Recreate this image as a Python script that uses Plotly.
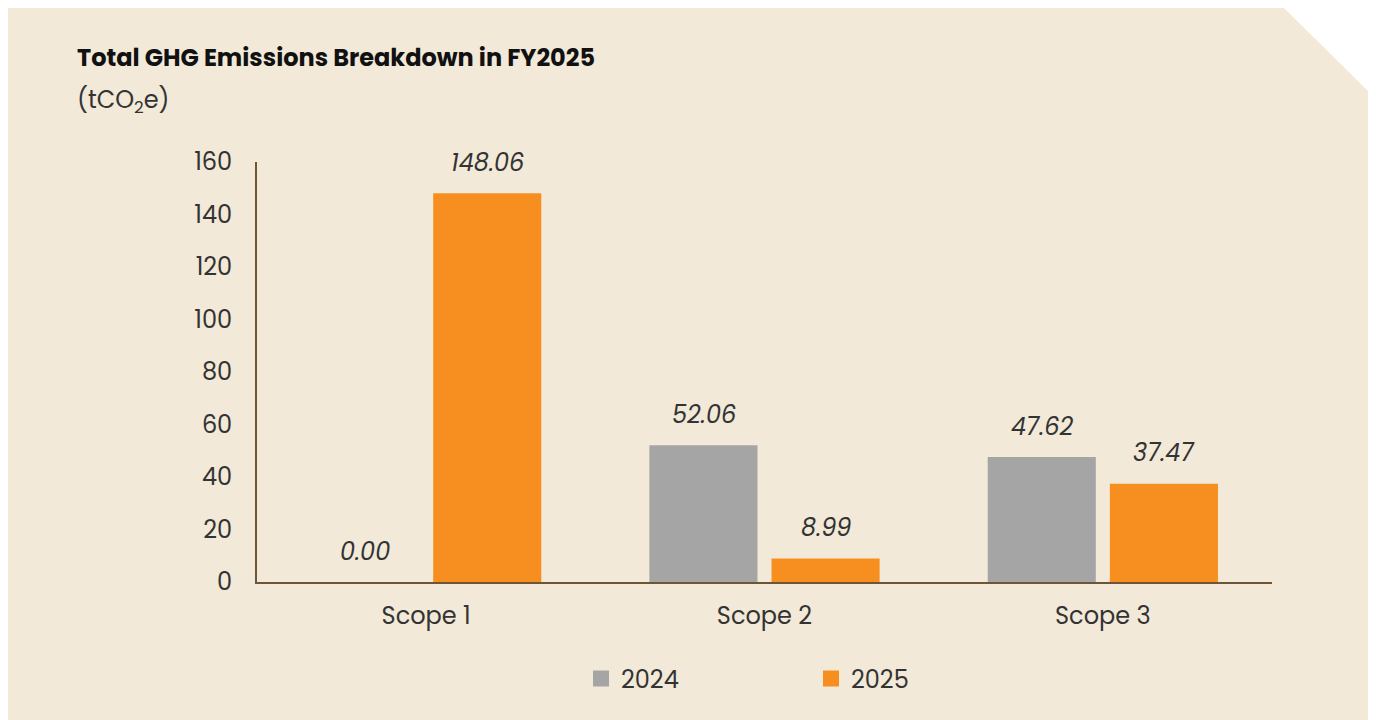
import plotly.graph_objects as go

categories = ["Scope 1", "Scope 2", "Scope 3"]
series_names = ["2024", "2025"]
values_2024 = [0.00, 52.06, 47.62]
values_2025 = [148.06, 8.99, 37.47]
y_ticks = [0, 20, 40, 60, 80, 100, 120, 140, 160]

W, H = 1376, 720
L, R, T, B = 249, 112, 154, 146
PW = W - L - R
PH = H - T - B

def px(x):
    return (x - L) / PW

def py(y):
    return (H - B - y) / PH

BG = "#F2E9D8"
ORANGE = "#F78F20"
GRAY = "#A5A5A5"
AXIS = "#6E5535"
TXT = "#333333"
FONT = "Poppins, Inter, sans-serif"

fig = go.Figure()
colors = [GRAY, ORANGE]
for name, vals, col in zip(series_names, [values_2024, values_2025], colors):
    fig.add_trace(go.Bar(x=categories, y=vals, name=name, marker_color=col,
                         marker_line_width=0, showlegend=False, hoverinfo="skip"))
    fig.add_trace(go.Scatter(x=[None], y=[None], mode="markers", name=name,
                             marker=dict(symbol="square", size=16, color=col),
                             showlegend=True, hoverinfo="skip"))

# value labels
offsets = [-61, 61]
for vals, off in zip([values_2024, values_2025], offsets):
    for c, v in zip(categories, vals):
        fig.add_annotation(x=c, y=v, xref="x", yref="y", text=f"<i>{v:.2f}</i>",
                           showarrow=False, xshift=off, yshift=31, yanchor="middle",
                           font=dict(family=FONT, size=24, color=TXT))

# panel background with cut corner
path = (f"M {px(-3)},{py(0)} L {px(1276)},{py(0)} L {px(1362)},{py(85)} "
        f"L {px(1362)},{py(720)} L {px(-3)},{py(720)} Z")
fig.add_shape(type="path", path=path, xref="paper", yref="paper",
              fillcolor=BG, line_width=0, layer="below")

fig.add_annotation(x=px(67), y=py(49), xref="paper", yref="paper",
                   text="<b>Total GHG Emissions Breakdown in FY2025</b>",
                   showarrow=False, xanchor="left", yanchor="middle",
                   font=dict(family=FONT, size=24, color="#111111"))
fig.add_annotation(x=px(67), y=py(93), xref="paper", yref="paper",
                   text="(tCO<sub>2</sub>e)",
                   showarrow=False, xanchor="left", yanchor="middle",
                   font=dict(family=FONT, size=24, color=TXT))

fig.update_layout(
    width=W, height=H,
    margin=dict(l=L, r=R, t=T, b=B, autoexpand=False),
    paper_bgcolor="white", plot_bgcolor="rgba(0,0,0,0)",
    barmode="group", bargap=0.278, bargroupgap=0.115,
    font=dict(family=FONT, size=24, color=TXT),
    legend=dict(orientation="h", x=px(573), xanchor="left", y=py(671), yanchor="middle",
                font=dict(family=FONT, size=24, color=TXT),
                bgcolor="rgba(0,0,0,0)", entrywidth=185, itemclick=False),
    xaxis=dict(showline=True, linecolor=AXIS, linewidth=2, showgrid=False,
               ticks="", tickfont=dict(size=24, color=TXT), ticklabelstandoff=11),
    yaxis=dict(range=[0, 160], tickvals=y_ticks, showline=True, linecolor=AXIS,
               linewidth=2, showgrid=False, zeroline=False, ticks="",
               tickfont=dict(size=24, color=TXT), ticklabelstandoff=18),
)
fig.update_xaxes(range=[-0.5, 2.5])

fig.write_html("out.html")
